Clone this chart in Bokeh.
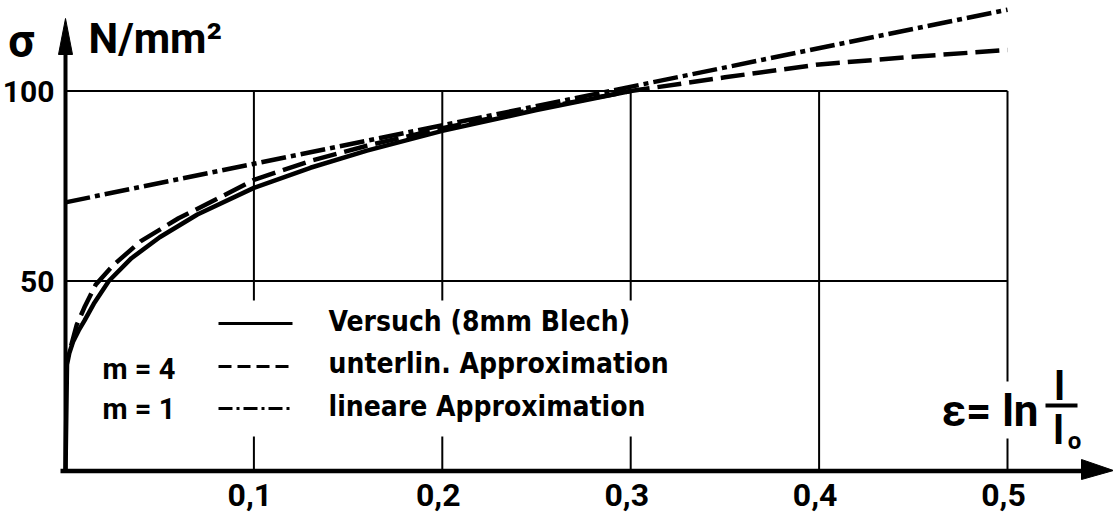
from bokeh.plotting import figure
from bokeh.models import Range1d
from bokeh.core.properties import value
from bokeh.embed import file_html
from bokeh.resources import INLINE

# ---------------- data ----------------
versuch_x = [0, 0.0008, 0.002, 0.004, 0.007, 0.01, 0.015, 0.023, 0.035, 0.05, 0.07, 0.1, 0.13, 0.16, 0.2, 0.25, 0.3]
versuch_y = [0, 28, 31, 34, 37, 39.5, 44, 50, 56, 61.5, 67.5, 74.5, 79.8, 84.3, 89.5, 95, 100]

unterlin_x = [0.003, 0.006, 0.01, 0.016, 0.025, 0.04, 0.06, 0.08, 0.1, 0.13, 0.16, 0.2, 0.25, 0.3, 0.35, 0.4, 0.45, 0.5]
unterlin_y = [33, 38.5, 43, 49, 54, 60.5, 66.5, 71.5, 76.6, 81.6, 85.6, 90.2, 95.3, 100, 103.6, 107, 109, 110.8]

linear_x = [0, 0.5]
linear_y = [70.7, 121.4]

x_ticks = [0.1, 0.2, 0.3, 0.4, 0.5]
x_tick_labels = ["0,1", "0,2", "0,3", "0,4", "0,5"]
y_ticks = [50, 100]
y_tick_labels = ["50", "100"]

legend_labels = ["Versuch (8mm Blech)", "unterlin. Approximation", "lineare Approximation"]
m_labels = ["m = 4", "m = 1"]

# ---------------- geometry ----------------
W, H = 1113, 516
X0PX, XS = 65.0, 1884.0
Y0PX, YS = 470.5, 3.8


def dx(px):
    return (px - X0PX) / XS


def dy(py):
    return (Y0PX - py) / YS


p = figure(width=W, height=H, min_border=0, x_axis_location=None, y_axis_location=None,
           toolbar_location=None, output_backend="svg",
           x_range=Range1d(dx(0), dx(W)), y_range=Range1d(dy(H), dy(0)))
p.outline_line_color = None
p.grid.visible = False
p.background_fill_color = "white"
p.border_fill_color = "white"

BOLD = "bold"
DEJ = value("DejaVu Sans Condensed")
ROB = value("Roboto")

# grid box
p.segment(x0=x_ticks, y0=[0] * len(x_ticks), x1=x_ticks, y1=[y_ticks[-1]] * len(x_ticks),
          line_color="black", line_width=2)
p.segment(x0=[0] * len(y_ticks), y0=y_ticks, x1=[x_ticks[-1]] * len(y_ticks), y1=y_ticks,
          line_color="black", line_width=2)

# white areas behind legend and epsilon label (gaps in grid lines)
p.quad(left=[dx(190), dx(935)], right=[dx(700), dx(1085)],
       top=[dy(300), dy(381)], bottom=[dy(436), dy(438)],
       fill_color="white", line_color=None)

# axes
p.segment(x0=[dx(60)], y0=[0], x1=[dx(1085)], y1=[0], line_color="black", line_width=4.5)
p.segment(x0=[0], y0=[dy(472)], x1=[0], y1=[dy(52)], line_color="black", line_width=4)
p.patch(x=[dx(1081), dx(1113), dx(1081)], y=[dy(459), dy(470), dy(479)], color="black")
p.patch(x=[dx(58), dx(65), dx(72)], y=[dy(54), dy(18), dy(54)], color="black")

# curves
p.line(versuch_x, versuch_y, line_color="black", line_width=4.5, line_join="round")
p.line(unterlin_x, unterlin_y, line_color="black", line_width=4.5, line_dash="24 8")
p.line(linear_x, linear_y, line_color="black", line_width=4.5, line_dash="25 5 5 5")

# legend lines
lx0, lx1 = dx(218), dx(292)
p.line([lx0, lx1], [dy(323)] * 2, line_color="black", line_width=3)
p.line([lx0, lx1], [dy(366)] * 2, line_color="black", line_width=3, line_dash="13 6")
p.line([lx0, lx1], [dy(408)] * 2, line_color="black", line_width=3, line_dash="14 4 3 4")

# legend texts
p.text(x=[dx(328)] * 3, y=[dy(321), dy(363), dy(406)], text=legend_labels,
       text_font=DEJ, text_font_style=BOLD, text_font_size="28px",
       text_align="left", text_baseline="middle", text_color="black")
p.text(x=[dx(102)] * 2, y=[dy(368), dy(408)], text=m_labels,
       text_font=ROB, text_font_style=BOLD, text_font_size="29px",
       text_align="left", text_baseline="middle", text_color="black")

# tick labels
p.text(x=x_ticks, y=[dy(494)] * len(x_ticks), text=x_tick_labels, x_offset=-4,
       text_font=ROB, text_font_style=BOLD, text_font_size="32px",
       text_align="center", text_baseline="middle", text_color="black")
p.text(x=[dx(54)] * len(y_ticks), y=y_ticks, text=y_tick_labels,
       text_font=ROB, text_font_style=BOLD, text_font_size="30px",
       text_align="right", text_baseline="middle", text_color="black")

# axis titles
p.text(x=[dx(21)], y=[dy(40)], text=["σ"], text_font=ROB, text_font_style=BOLD,
       text_font_size="46px", text_align="center", text_baseline="middle", text_color="black")
p.text(x=[dx(88)], y=[dy(38)], text=["N/mm²"], text_font=ROB, text_font_style=BOLD,
       text_font_size="42px", text_align="left", text_baseline="middle", text_color="black")

p.text(x=[dx(941)], y=[dy(410)], text=["ε= ln"], text_font=ROB, text_font_style=BOLD,
       text_font_size="44px", text_align="left", text_baseline="middle", text_color="black")
p.segment(x0=[dx(1045)], y0=[dy(405)], x1=[dx(1077)], y1=[dy(405)], line_color="black", line_width=4)
p.text(x=[dx(1059)], y=[dy(386)], text=["l"], text_font=ROB, text_font_style=BOLD,
       text_font_size="40px", text_align="center", text_baseline="middle", text_color="black")
p.text(x=[dx(1058)], y=[dy(430)], text=["l"], text_font=ROB, text_font_style=BOLD,
       text_font_size="40px", text_align="center", text_baseline="middle", text_color="black")
p.text(x=[dx(1074)], y=[dy(440)], text=["o"], text_font=ROB, text_font_style=BOLD,
       text_font_size="24px", text_align="center", text_baseline="middle", text_color="black")

open("out.html", "w").write(file_html(p, INLINE))
